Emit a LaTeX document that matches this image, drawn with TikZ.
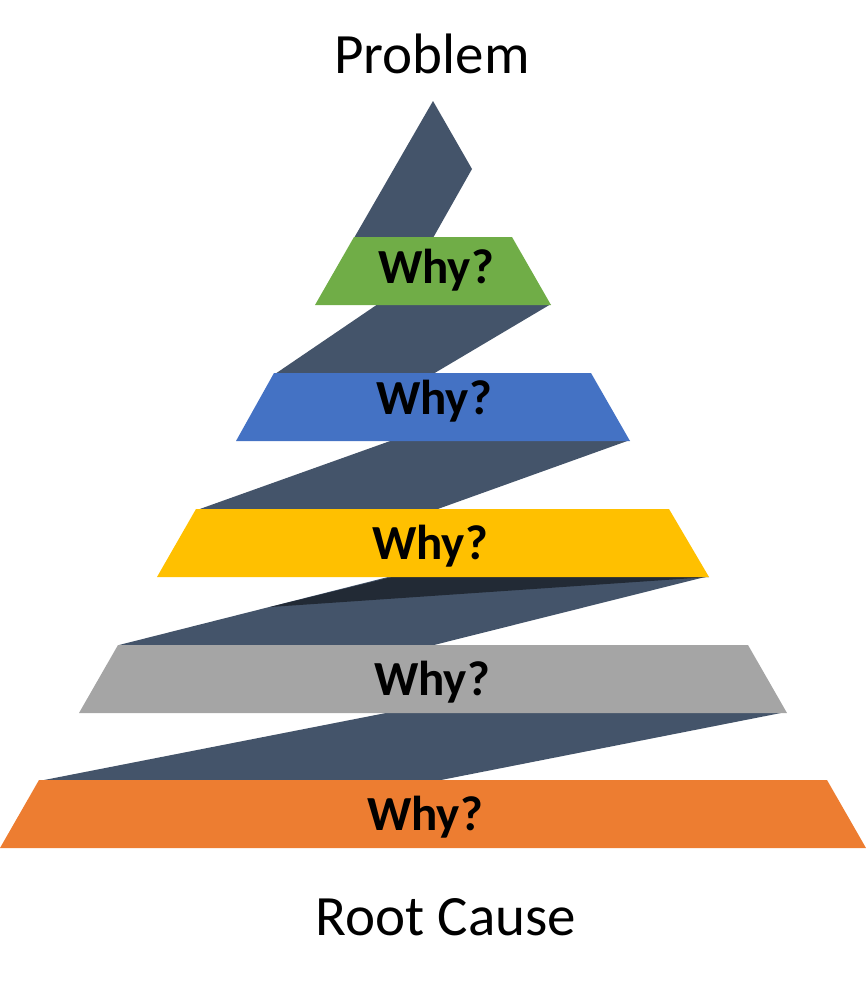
\documentclass[tikz,border=0pt]{standalone}
\usepackage{fontspec}
\setmainfont{Carlito}
\definecolor{band}{HTML}{44546A}
\definecolor{bandshade}{HTML}{222A35}
\definecolor{cgreen}{HTML}{70AD47}
\definecolor{cblue}{HTML}{4472C4}
\definecolor{cyellow}{HTML}{FFC000}
\definecolor{cgray}{HTML}{A5A5A5}
\definecolor{corange}{HTML}{ED7D31}
\tikzset{
  bandfill/.style={fill=band},
  why/.style={anchor=base, inner sep=0pt, font=\fontsize{49}{55}\selectfont\bfseries, text=black},
  caption/.style={anchor=base, inner sep=0pt, font=\fontsize{57}{64}\selectfont, text=black}
}
\begin{document}
\begin{tikzpicture}[x=1pt,y=-1pt]
\useasboundingbox (0,0) rectangle (866,986);
% zigzag band
\fill[bandfill] (433,101) -- (472,169) -- (433,238) -- (354,238) -- cycle;
\fill[bandfill] (378,304) -- (551,304) -- (433,374) -- (275,374) -- cycle;
\fill[bandfill] (393,440) -- (630,440) -- (435,510) -- (197,510) -- cycle;
\fill[bandfill] (392,576) -- (709,576) -- (434,645) -- (119,645) -- cycle;
\fill[bandshade] (392,577) -- (709,577) -- (270,607) -- cycle;
\fill[bandfill] (391,712) -- (786,712) -- (436,781) -- (39,781) -- cycle;
% levels
\fill[cgreen]  (354,237) -- (512,237) -- (551,305) -- (315,305) -- cycle;
\fill[cblue]   (274,373) -- (591,373) -- (630,441) -- (236,441) -- cycle;
\fill[cyellow] (196,509) -- (669,509) -- (709,577) -- (157,577) -- cycle;
\fill[cgray]   (118,645) -- (748,645) -- (787,713) -- (79,713) -- cycle;
\fill[corange] (39,780) -- (827,780) -- (866,848) -- (0,848) -- cycle;
% labels
\node[why] (w1) at (436,283) {Why?};
\node[why] (w2) at (434,414) {Why?};
\node[why] (w3) at (430,559) {Why?};
\node[why] (w4) at (432,695) {Why?};
\node[why] (w5) at (425,830) {Why?};
\node[caption] (problem) at (432,73) {Problem};
\node[caption] (root) at (446,935) {Root Cause};
\end{tikzpicture}
\end{document}
